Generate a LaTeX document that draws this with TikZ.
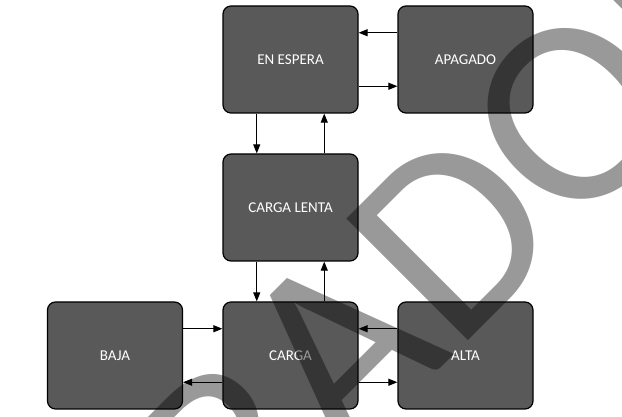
\documentclass[tikz,border=0pt]{standalone}
\usepackage{fontspec}
\setmainfont{Carlito}
\usetikzlibrary{arrows.meta}
\definecolor{boxgray}{HTML}{595959}

\begin{document}
\begin{tikzpicture}[x=1pt,y=1pt,
  state/.style={draw=black,line width=1.2pt,fill=boxgray,rounded corners=8pt,
    minimum width=135pt,minimum height=107pt,inner sep=0pt,
    text=white,font=\fontsize{15}{17}\selectfont},
  arr/.style={line width=1pt,-{Triangle[length=9pt,width=7pt]}}]
  \useasboundingbox (0,0) rectangle (622,417);

  \node[state] (espera) at (290.5,357.5) {EN ESPERA};
  \node[state] (apagado) at (465.5,357.5) {APAGADO};
  \node[state] (lenta) at (290.5,209.5) {CARGA LENTA};
  \node[state] (baja) at (115,61.5) {BAJA};
  \node[state] (carga) at (290.5,61.5) {CARGA};
  \node[state] (alta) at (465.5,61.5) {ALTA};

  \draw[arr] ([yshift=26.75pt]apagado.west) -- ([yshift=26.75pt]espera.east);
  \draw[arr] ([yshift=-26.75pt]espera.east) -- ([yshift=-26.75pt]apagado.west);

  \draw[arr] ([xshift=-33.75pt]espera.south) -- ([xshift=-33.75pt]lenta.north);
  \draw[arr] ([xshift=33.75pt]lenta.north) -- ([xshift=33.75pt]espera.south);
  \draw[arr] ([xshift=-33.75pt]lenta.south) -- ([xshift=-33.75pt]carga.north);
  \draw[arr] ([xshift=33.75pt]carga.north) -- ([xshift=33.75pt]lenta.south);

  \draw[arr] ([yshift=26.75pt]baja.east) -- ([yshift=26.75pt]carga.west);
  \draw[arr] ([yshift=-26.75pt]carga.west) -- ([yshift=-26.75pt]baja.east);
  \draw[arr] ([yshift=26.75pt]alta.west) -- ([yshift=26.75pt]carga.east);
  \draw[arr] ([yshift=-26.75pt]carga.east) -- ([yshift=-26.75pt]alta.west);

  \begin{scope}
    \clip (0,0) rectangle (622,417);
    \node[rotate=45,anchor=base west,inner sep=0pt,text=black,text opacity=0.4,
      font=\fontsize{268}{268}\selectfont] (marca) at (-89,-481) {BORRADOR};
  \end{scope}
\end{tikzpicture}
\end{document}
